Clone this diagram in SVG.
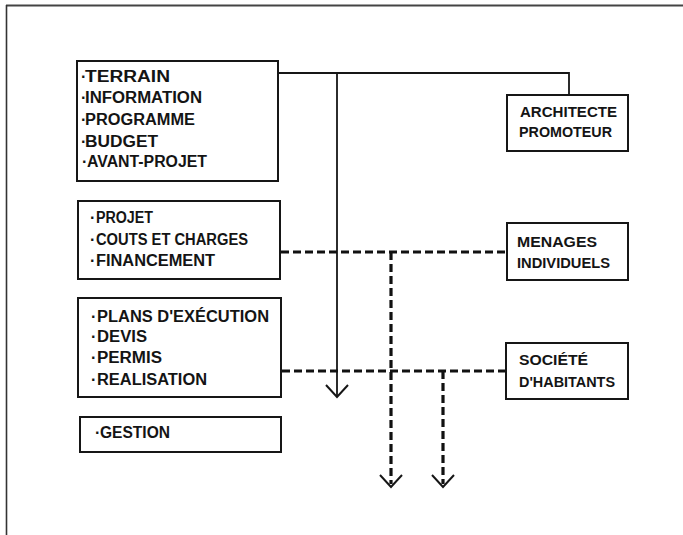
<svg xmlns="http://www.w3.org/2000/svg" width="683" height="535" viewBox="0 0 683 535">
  <style>
    .box { fill: none; stroke: #161616; stroke-width: 2; }
    .t { font-family: "Liberation Sans", Arial, sans-serif; font-weight: bold; font-size: 16px; fill: #141414; }
    .ts { font-family: "Liberation Sans", Arial, sans-serif; font-weight: bold; font-size: 14.5px; fill: #141414; }
    .solid { fill: none; stroke: #161616; stroke-width: 1.8; }
    .dash { fill: none; stroke: #111; stroke-width: 3.2; stroke-dasharray: 8 4; }
    .head { fill: none; stroke: #161616; stroke-width: 2; stroke-linejoin: miter; }
  </style>

  <rect width="683" height="535" fill="#ffffff"/>

  <!-- page frame -->
  <g id="frame">
    <line x1="6" y1="5.5" x2="683" y2="5.5" stroke="#444" stroke-width="2"/>
    <line x1="6.5" y1="5" x2="6.5" y2="535" stroke="#333" stroke-width="1.6"/>
  </g>

  <!-- connectors -->
  <g id="connectors">
    <!-- solid link from first box to ARCHITECTE PROMOTEUR -->
    <path class="solid" d="M278 73 H569 V95"/>
    <path class="solid" d="M337 73 V396"/>
    <path class="head" d="M326 385 L337 397 L348 385"/>

    <!-- dashed link MENAGES INDIVIDUELS -->
    <path class="dash" d="M281 252 H507"/>
    <path class="dash" d="M391 252 V484"/>
    <path class="head" d="M380 475 L391 487 L402 475"/>

    <!-- dashed link SOCIETE D'HABITANTS -->
    <path class="dash" d="M282 371 H507"/>
    <path class="dash" d="M443 371 V484"/>
    <path class="head" d="M432 475 L443 487 L454 475"/>
  </g>

  <!-- left column -->
  <g id="box-terrain">
    <rect class="box" x="77" y="61" width="201" height="120"/>
    <text class="t" x="81" y="82">·</text>
    <text class="t" x="85" y="82" textLength="85" lengthAdjust="spacingAndGlyphs">TERRAIN</text>
    <text class="t" x="81" y="103">·</text>
    <text class="t" x="85" y="103" textLength="117" lengthAdjust="spacingAndGlyphs">INFORMATION</text>
    <text class="t" x="81" y="125">·</text>
    <text class="t" x="85" y="125" textLength="110" lengthAdjust="spacingAndGlyphs">PROGRAMME</text>
    <text class="t" x="81" y="147">·</text>
    <text class="t" x="85" y="147" textLength="73" lengthAdjust="spacingAndGlyphs">BUDGET</text>
    <text class="t" x="82" y="167">·</text>
    <text class="t" x="87" y="167" textLength="120" lengthAdjust="spacingAndGlyphs">AVANT-PROJET</text>
  </g>

  <g id="box-projet">
    <rect class="box" x="78" y="201" width="202" height="78"/>
    <text class="t" x="90" y="223">·</text>
    <text class="t" x="96" y="223" textLength="57" lengthAdjust="spacingAndGlyphs">PROJET</text>
    <text class="t" x="90" y="245">·</text>
    <text class="t" x="96" y="245" textLength="152" lengthAdjust="spacingAndGlyphs">COUTS ET CHARGES</text>
    <text class="t" x="90" y="266">·</text>
    <text class="t" x="96" y="266" textLength="119" lengthAdjust="spacingAndGlyphs">FINANCEMENT</text>
  </g>

  <g id="box-plans">
    <rect class="box" x="78" y="298" width="203" height="99"/>
    <text class="t" x="91" y="322">·</text>
    <text class="t" x="97" y="322" textLength="172" lengthAdjust="spacingAndGlyphs">PLANS D'EXÉCUTION</text>
    <text class="t" x="91" y="342">·</text>
    <text class="t" x="97" y="342" textLength="50" lengthAdjust="spacingAndGlyphs">DEVIS</text>
    <text class="t" x="91" y="363">·</text>
    <text class="t" x="97" y="363" textLength="65" lengthAdjust="spacingAndGlyphs">PERMIS</text>
    <text class="t" x="91" y="385">·</text>
    <text class="t" x="97" y="385" textLength="110" lengthAdjust="spacingAndGlyphs">REALISATION</text>
  </g>

  <g id="box-gestion">
    <rect class="box" x="80" y="417" width="201" height="35"/>
    <text class="t" x="95" y="438">·</text>
    <text class="t" x="100" y="438" textLength="70" lengthAdjust="spacingAndGlyphs">GESTION</text>
  </g>

  <!-- right column -->
  <g id="box-architecte">
    <rect class="box" x="507" y="95" width="121" height="56"/>
    <text class="ts" x="520" y="117" textLength="97" lengthAdjust="spacingAndGlyphs">ARCHITECTE</text>
    <text class="ts" x="519" y="137" textLength="93" lengthAdjust="spacingAndGlyphs">PROMOTEUR</text>
  </g>

  <g id="box-menages">
    <rect class="box" x="507" y="223" width="121" height="57"/>
    <text class="ts" x="517" y="247" textLength="80" lengthAdjust="spacingAndGlyphs">MENAGES</text>
    <text class="ts" x="517" y="268" textLength="93" lengthAdjust="spacingAndGlyphs">INDIVIDUELS</text>
  </g>

  <g id="box-societe">
    <rect class="box" x="506" y="343" width="122" height="56"/>
    <text class="ts" x="519" y="365" textLength="69" lengthAdjust="spacingAndGlyphs">SOCIÉTÉ</text>
    <text class="ts" x="519" y="387" textLength="96" lengthAdjust="spacingAndGlyphs">D'HABITANTS</text>
  </g>
</svg>
